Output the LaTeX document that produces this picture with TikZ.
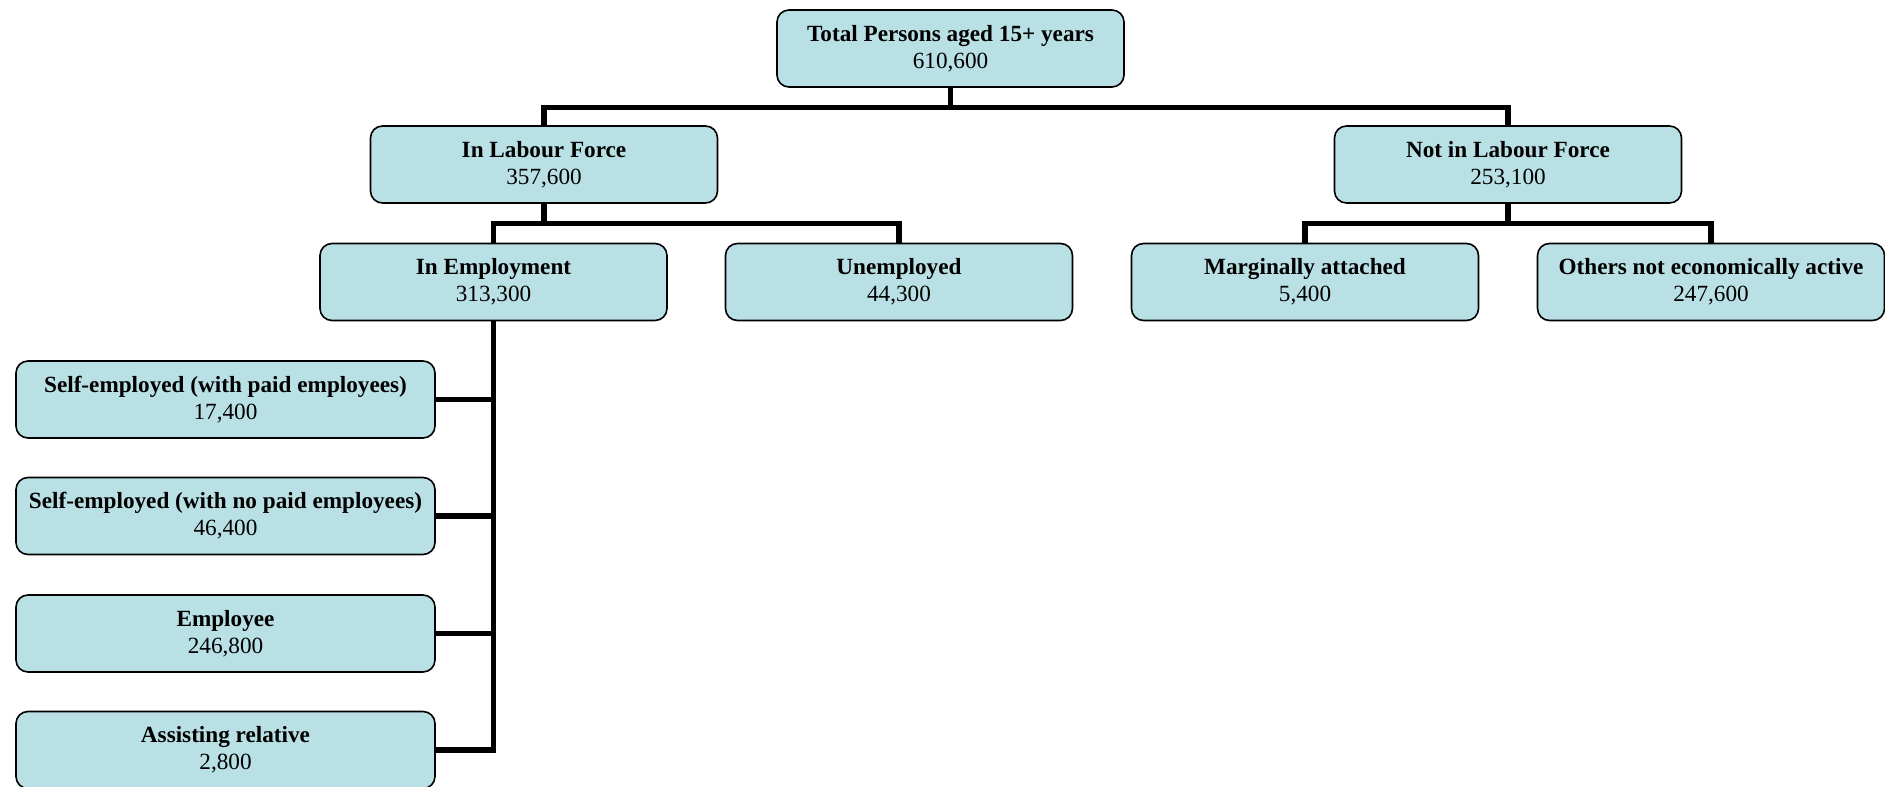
\documentclass[tikz,border=0pt]{standalone}
\usepackage{fontspec}
\setmainfont{Liberation Serif}
\definecolor{boxfill}{RGB}{185,224,228}
\begin{document}
\begin{tikzpicture}[x=50pt, y=50pt,
    cat/.style={draw, rectangle, rounded corners=6pt, line width=0.8pt, fill=boxfill,
        minimum width=173.5pt, minimum height=38.5pt, align=center, inner sep=2pt,
        font=\fontsize{11.6}{13.5}\selectfont},
    wide/.style={cat, minimum width=209.5pt},
    conn/.style={line width=2.6pt}]
    \useasboundingbox (0,0) rectangle (18.85,-7.87);

    % Top level
    \node[cat] (total) at (9.505,-0.485) {\textbf{Total Persons aged 15+ years}\\610,600};

    % Labour force split
    \node[cat] (inLF) at (5.44,-1.645) {\textbf{In Labour Force}\\357,600};
    \node[cat] (notLF) at (15.08,-1.645) {\textbf{Not in Labour Force}\\253,100};

    % Third level
    \node[cat] (inEmp) at (4.935,-2.82) {\textbf{In Employment}\\313,300};
    \node[cat] (unemp) at (8.99,-2.82) {\textbf{Unemployed}\\44,300};
    \node[cat] (marg) at (13.05,-2.82) {\textbf{Marginally attached}\\5,400};
    \node[cat] (others) at (17.11,-2.82) {\textbf{Others not economically active}\\247,600};

    % Employment status
    \node[wide] (selfPaid) at (2.255,-3.995) {\textbf{Self-employed (with paid employees)}\\17,400};
    \node[wide] (selfNoPaid) at (2.255,-5.16) {\textbf{Self-employed (with no paid employees)}\\46,400};
    \node[wide] (employee) at (2.255,-6.335) {\textbf{Employee}\\246,800};
    \node[wide] (assist) at (2.255,-7.5) {\textbf{Assisting relative}\\2,800};

    % Connectors
    \draw[conn] (total.south) -- ++(0,-0.195) -| (inLF.north);
    \draw[conn] (total.south) -- ++(0,-0.195) -| (notLF.north);
    \draw[conn] (inLF.south) -- ++(0,-0.2) -| (inEmp.north);
    \draw[conn] (inLF.south) -- ++(0,-0.2) -| (unemp.north);
    \draw[conn] (notLF.south) -- ++(0,-0.2) -| (marg.north);
    \draw[conn] (notLF.south) -- ++(0,-0.2) -| (others.north);
    \draw[conn] (inEmp.south) |- (selfPaid.east);
    \draw[conn] (inEmp.south) |- (selfNoPaid.east);
    \draw[conn] (inEmp.south) |- (employee.east);
    \draw[conn] (inEmp.south) |- (assist.east);
\end{tikzpicture}
\end{document}
